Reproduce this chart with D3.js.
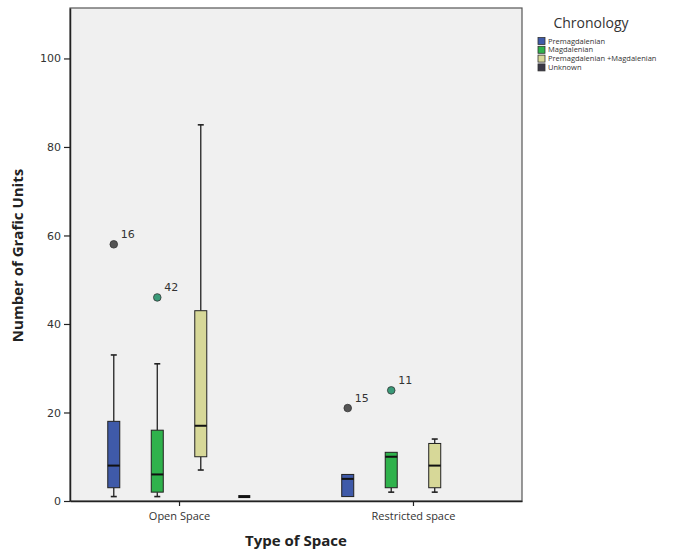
<!DOCTYPE html>
<html>
<head>
<meta charset="utf-8">
<script src="https://cdn.jsdelivr.net/npm/d3@7"></script>
<style>
  body { margin: 0; background: #fff; }
  svg { display: block; }
  text { font-family: "Open Sans", "DejaVu Sans", sans-serif; }
</style>
</head>
<body>
<svg id="chart" width="676" height="554"></svg>
<script>
// Categories on the x axis and the chronology series
const spaces = ["Open Space", "Restricted space"];
const series = ["Premagdalenian", "Magdalenian", "Premagdalenian+Magdalenian", "Unknown"];
const colors = ["#3f5aa9", "#2fb24c", "#d7d898", "#3a3846"];

// Five-number summaries per space, in series order (null = no cases)
const whiskerLow  = [[1, 1, 7, 1],   [1, 2, 2, null]];
const q1          = [[3, 2, 10, 1],  [1, 3, 3, null]];
const median      = [[8, 6, 17, 1],  [5, 10, 8, null]];
const q3          = [[18, 16, 43, 1], [6, 11, 13, null]];
const whiskerHigh = [[33, 31, 85, 1], [6, 11, 14, null]];

// Outliers: space index, series index, value, case label
const outlierSpace  = [0, 0, 1, 1];
const outlierSeries = [0, 1, 0, 1];
const outlierValue  = [58, 46, 21, 25];
const outlierLabel  = ["16", "42", "15", "11"];

const yTicks = [0, 20, 40, 60, 80, 100];

const svg = d3.select("#chart");
const plot = { left: 70, right: 522, top: 8, bottom: 501 };

const y = d3.scaleLinear().domain([0, 111.4]).range([plot.bottom, plot.top]);
const x = d3.scalePoint().domain(spaces).range([plot.left, plot.right]).padding(0.466);
const sub = d3.scaleBand().domain(series).range([-87, 87]);
const boxW = 12;
const cx = (si, k) => x(spaces[si]) + sub(series[k]) + sub.bandwidth() / 2;

// Plot background and frame
svg.append("rect")
  .attr("x", plot.left).attr("y", plot.top)
  .attr("width", plot.right - plot.left).attr("height", plot.bottom - plot.top)
  .attr("fill", "#f0f0f0").attr("stroke", "#555").attr("stroke-width", 1.2);

// Y axis
const yAxis = svg.append("g")
  .attr("transform", `translate(${plot.left},0)`)
  .call(d3.axisLeft(y).tickValues(yTicks).tickSizeInner(6).tickSizeOuter(0).tickPadding(3));
yAxis.select(".domain").attr("stroke", "#222").attr("stroke-width", 1.5);
yAxis.selectAll(".tick line").attr("stroke", "#222").attr("stroke-width", 1.2);
yAxis.selectAll(".tick text").attr("fill", "#333").style("font-size", "11px")
  .style("font-family", "'DejaVu Sans', sans-serif");

// X axis
const xAxis = svg.append("g")
  .attr("transform", `translate(0,${plot.bottom})`)
  .call(d3.axisBottom(x).tickSizeInner(5).tickSizeOuter(0).tickPadding(6));
xAxis.select(".domain").attr("stroke", "#222").attr("stroke-width", 1.5);
xAxis.selectAll(".tick line").attr("stroke", "#222").attr("stroke-width", 1.2);
xAxis.selectAll(".tick text").attr("fill", "#333").style("font-size", "11px");

// Boxes
const boxes = [];
spaces.forEach((s, si) => {
  series.forEach((name, k) => {
    if (median[si][k] === null) return;
    boxes.push({ si, k, lo: whiskerLow[si][k], q1: q1[si][k], med: median[si][k],
                 q3: q3[si][k], hi: whiskerHigh[si][k] });
  });
});

const g = svg.append("g");
boxes.forEach(b => {
  const c = cx(b.si, b.k);
  const flat = b.q1 === b.q3;
  // whiskers
  if (b.hi > b.q3) {
    g.append("line").attr("x1", c).attr("x2", c).attr("y1", y(b.q3)).attr("y2", y(b.hi))
      .attr("stroke", "#222").attr("stroke-width", 1.3);
    g.append("line").attr("x1", c - 3).attr("x2", c + 3).attr("y1", y(b.hi)).attr("y2", y(b.hi))
      .attr("stroke", "#222").attr("stroke-width", 1.6);
  }
  if (b.lo < b.q1) {
    g.append("line").attr("x1", c).attr("x2", c).attr("y1", y(b.q1)).attr("y2", y(b.lo))
      .attr("stroke", "#222").attr("stroke-width", 1.3);
    g.append("line").attr("x1", c - 3).attr("x2", c + 3).attr("y1", y(b.lo)).attr("y2", y(b.lo))
      .attr("stroke", "#222").attr("stroke-width", 1.6);
  }
  if (flat) {
    g.append("line").attr("x1", c - 6).attr("x2", c + 6).attr("y1", y(b.med)).attr("y2", y(b.med))
      .attr("stroke", "#111").attr("stroke-width", 3);
    return;
  }
  g.append("rect")
    .attr("x", c - boxW / 2).attr("width", boxW)
    .attr("y", y(b.q3)).attr("height", y(b.q1) - y(b.q3))
    .attr("fill", colors[b.k]).attr("stroke", "#222").attr("stroke-width", 1);
  g.append("line").attr("x1", c - boxW / 2).attr("x2", c + boxW / 2)
    .attr("y1", y(b.med)).attr("y2", y(b.med))
    .attr("stroke", "#111").attr("stroke-width", 2);
});

// Outliers with case labels
outlierValue.forEach((v, i) => {
  const c = cx(outlierSpace[i], outlierSeries[i]);
  g.append("circle").attr("cx", c).attr("cy", y(v)).attr("r", 3.8)
    .attr("fill", outlierSeries[i] === 1 ? "#3a9a78" : "#555")
    .attr("stroke", "#333").attr("stroke-width", 0.8);
  g.append("text").attr("x", c + 7).attr("y", y(v) - 6)
    .attr("fill", "#333").style("font-size", "11px")
    .style("font-family", "'DejaVu Sans', sans-serif")
    .text(outlierLabel[i]);
});

// Axis titles
svg.append("text")
  .attr("transform", `translate(23,${(plot.top + plot.bottom) / 2 + 1}) rotate(-90)`)
  .attr("text-anchor", "middle").attr("fill", "#222")
  .style("font-size", "15px").style("font-weight", "bold")
  .text("Number of Grafic Units");
svg.append("text")
  .attr("x", (plot.left + plot.right) / 2).attr("y", 546)
  .attr("text-anchor", "middle").attr("fill", "#222")
  .style("font-size", "15px").style("font-weight", "bold")
  .text("Type of Space");

// Legend
const legend = svg.append("g");
legend.append("text").attr("x", 591).attr("y", 28).attr("text-anchor", "middle")
  .attr("fill", "#333").style("font-size", "14px").text("Chronology");
series.forEach((name, k) => {
  const ly = 41 + k * 8.8;
  legend.append("rect").attr("x", 538).attr("y", ly - 3.5).attr("width", 7).attr("height", 7)
    .attr("fill", colors[k]).attr("stroke", "#333").attr("stroke-width", 0.8);
  legend.append("text").attr("x", 548).attr("y", ly + 2.6)
    .attr("fill", "#333").style("font-size", "7.5px")
    .text(name === "Premagdalenian+Magdalenian" ? "Premagdalenian +Magdalenian" : name);
});
</script>
</body>
</html>
